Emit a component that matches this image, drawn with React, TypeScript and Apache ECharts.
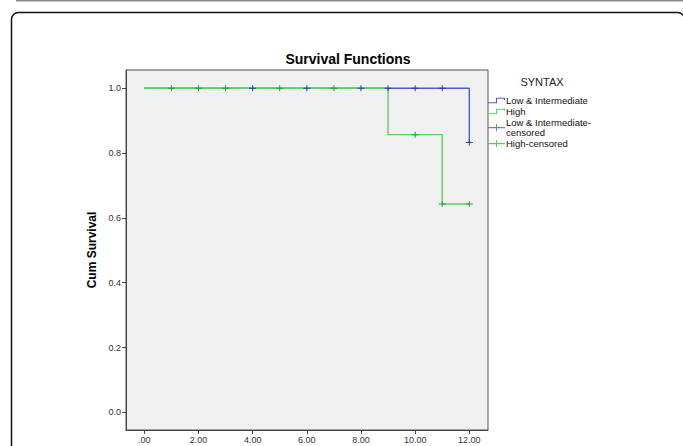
import React, { useEffect, useRef } from "react";
import * as echarts from "echarts";

// Kaplan-Meier step data (time, cumulative survival)
const lowIntTimes = [0, 12];
const lowIntSurv = [1.0, 0.833];
const highTimes = [0, 9, 11, 12];
const highSurv = [1.0, 0.857, 0.643, 0.643];

// Censored observations
const lowIntCensTimes = [4, 6, 8, 9, 10, 11, 12];
const lowIntCensSurv = [1.0, 1.0, 1.0, 1.0, 1.0, 1.0, 0.833];
const highCensTimes = [1, 2, 3, 5, 7, 10, 11, 12];
const highCensSurv = [1.0, 1.0, 1.0, 1.0, 1.0, 0.857, 0.643, 0.643];

const xTicks = [0, 2, 4, 6, 8, 10, 12];
const yTicks = [0, 0.2, 0.4, 0.6, 0.8, 1.0];

const seriesNames = ["Low & Intermediate", "High", "Low & Intermediate-censored", "High-censored"];

const BLUE_LINE = "#4b60c0";
const GREEN_LINE = "#62cf62";
const BLUE_MARK = "#2c3fa0";
const GREEN_MARK = "#2a9a3a";

const FONT = "'Liberation Sans', Arial, sans-serif";

const plusSymbol = "path://M3,0 L4,0 L4,6 L3,6 Z M0,2.5 L7,2.5 L7,3.5 L0,3.5 Z";
const stepIcon = "path://M0,6 L7,6 L7,2 L15,2 L15,4 L14,4 L14,3 L8,3 L8,7 L0,7 Z";
const censIcon = "path://M0,3 L17,3 L17,4.2 L0,4.2 Z M8,0 L9,0 L9,7 L8,7 Z";

function zip(xs: number[], ys: number[]) {
  return xs.map((x, i) => [x, ys[i]]);
}

export default function App() {
  const ref = useRef<HTMLDivElement>(null);
  useEffect(() => {
    if (!ref.current) return;
    const chart = echarts.init(ref.current, undefined, { renderer: "svg" });
    chart.setOption({
      animation: false,
      backgroundColor: "#ffffff",
      textStyle: { fontFamily: FONT },
      grid: {
        left: 126,
        top: 70,
        width: 362,
        height: 360,
        show: true,
        backgroundColor: "#f0f0f0",
        borderColor: "#555555",
        borderWidth: 1,
      },
      xAxis: {
        type: "value",
        min: -0.676,
        max: 12.69,
        splitLine: { show: false },
        axisLine: { show: true, onZero: false, lineStyle: { color: "#444" } },
        axisTick: { show: true, length: 4, customValues: xTicks, lineStyle: { color: "#444" } },
        axisLabel: {
          customValues: xTicks,
          fontSize: 9,
          color: "#333",
          margin: 5,
          fontFamily: FONT,
          formatter: (v: number) => (v === 0 ? ".00" : v.toFixed(2)),
        },
      },
      yAxis: {
        type: "value",
        min: -0.0546,
        max: 1.0565,
        splitLine: { show: false },
        name: "Cum Survival",
        nameLocation: "middle",
        nameGap: 28,
        nameTextStyle: { fontSize: 12, fontWeight: "bold", color: "#000", fontFamily: FONT },
        axisLine: { show: true, onZero: false, lineStyle: { color: "#444" } },
        axisTick: { show: true, length: 4, customValues: yTicks, lineStyle: { color: "#444" } },
        axisLabel: {
          customValues: yTicks,
          fontSize: 9,
          color: "#333",
          margin: 5,
          fontFamily: FONT,
          formatter: (v: number) => v.toFixed(1),
        },
      },
      legend: {
        orient: "vertical",
        left: 488,
        top: 95.5,
        padding: 0,
        itemGap: 1,
        itemWidth: 17,
        itemHeight: 7,
        selectedMode: false,
        textStyle: {
          fontSize: 9.5,
          lineHeight: 10,
          color: "#111",
          fontFamily: FONT,
          padding: [0, 0, 0, -4],
        },
        formatter: (name: string) =>
          name === "Low & Intermediate-censored" ? "Low & Intermediate-\ncensored" : name,
        data: [
          { name: seriesNames[0], icon: stepIcon, itemStyle: { color: BLUE_LINE } },
          { name: seriesNames[1], icon: stepIcon, itemStyle: { color: GREEN_LINE } },
          { name: seriesNames[2], icon: censIcon, itemStyle: { color: "#6a7ed0" } },
          { name: seriesNames[3], icon: censIcon, itemStyle: { color: "#5ccc5c" } },
        ],
      },
      graphic: [
        { type: "rect", shape: { x: 16, y: 0, width: 680, height: 1.5 }, style: { fill: "#8a8a8a" }, silent: true },
        {
          type: "rect",
          shape: { x: 11.5, y: 12.5, width: 673, height: 500, r: 7 },
          style: { fill: "none", stroke: "#111", lineWidth: 1.5 },
          silent: true,
          z: -10,
        },
        {
          type: "text",
          x: 348,
          y: 58.5,
          style: {
            text: "Survival Functions",
            fontSize: 14,
            fontWeight: "bold",
            fill: "#000",
            fontFamily: FONT,
            align: "center",
            verticalAlign: "middle",
          },
        },
        {
          type: "text",
          x: 542,
          y: 82,
          style: {
            text: "SYNTAX",
            fontSize: 11,
            fill: "#222",
            fontFamily: FONT,
            align: "center",
            verticalAlign: "middle",
          },
        },
      ],
      series: [
        {
          name: seriesNames[0],
          type: "line",
          step: "end",
          data: zip(lowIntTimes, lowIntSurv),
          showSymbol: false,
          symbol: "none",
          lineStyle: { color: BLUE_LINE, width: 1.4 },
          itemStyle: { color: BLUE_LINE },
          z: 2,
        },
        {
          name: seriesNames[1],
          type: "line",
          step: "end",
          data: zip(highTimes, highSurv),
          showSymbol: false,
          symbol: "none",
          lineStyle: { color: GREEN_LINE, width: 1.4 },
          itemStyle: { color: GREEN_LINE },
          z: 3,
        },
        {
          name: seriesNames[2],
          type: "scatter",
          data: zip(lowIntCensTimes, lowIntCensSurv),
          symbol: plusSymbol,
          symbolSize: [7, 6],
          itemStyle: { color: BLUE_MARK, opacity: 1 },
          z: 4,
        },
        {
          name: seriesNames[3],
          type: "scatter",
          data: zip(highCensTimes, highCensSurv),
          symbol: plusSymbol,
          symbolSize: [7, 6],
          itemStyle: { color: GREEN_MARK, opacity: 1 },
          z: 5,
        },
      ],
    });
    return () => chart.dispose();
  }, []);
  return (
    <div
      ref={ref}
      style={{ position: "fixed", left: 0, top: 0, width: 683, height: 446 }}
    />
  );
}
